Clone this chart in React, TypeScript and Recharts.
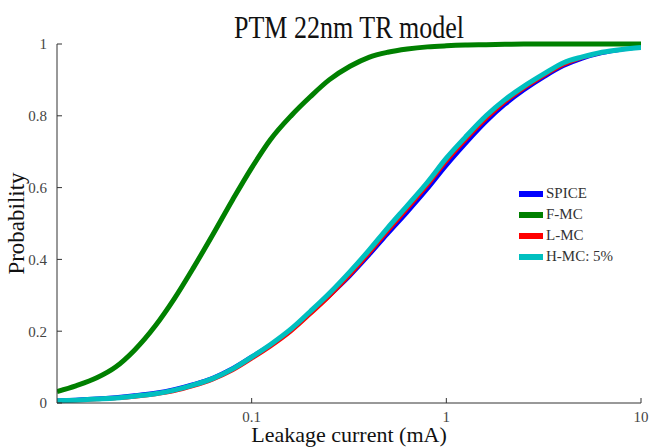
import { LineChart, Line, XAxis, YAxis, Legend } from 'recharts';

// leakage current (mA), sampled on a log grid
const current = [
    0.01, 0.0125, 0.016, 0.02, 0.025, 0.032, 0.04, 0.05, 0.063, 0.08,
    0.1, 0.125, 0.16, 0.2, 0.25, 0.32, 0.4, 0.5, 0.63, 0.8,
    1, 1.25, 1.6, 2, 2.5, 3.2, 4, 5, 6.3, 8, 10,
];

// cumulative probability per method
const spice = [
    0.008, 0.01, 0.013, 0.017, 0.022, 0.029, 0.039, 0.053, 0.071, 0.098,
    0.13, 0.163, 0.205, 0.25, 0.297, 0.353, 0.41, 0.47, 0.53, 0.595,
    0.66, 0.72, 0.782, 0.83, 0.87, 0.908, 0.938, 0.959, 0.974, 0.984, 0.99,
];
const fmc = [
    0.032, 0.048, 0.07, 0.1, 0.147, 0.215, 0.29, 0.375, 0.468, 0.567,
    0.655, 0.734, 0.801, 0.853, 0.9, 0.938, 0.963, 0.977, 0.986, 0.992,
    0.995, 0.997, 0.998, 0.999, 1, 1, 1, 1, 1, 1, 1,
];
const lmc = [
    0.005, 0.007, 0.009, 0.012, 0.016, 0.023, 0.032, 0.046, 0.064, 0.09,
    0.122, 0.156, 0.199, 0.246, 0.295, 0.355, 0.414, 0.477, 0.539, 0.604,
    0.671, 0.73, 0.79, 0.837, 0.875, 0.912, 0.941, 0.961, 0.975, 0.984, 0.99,
];
const hmc = [
    0.006, 0.008, 0.011, 0.014, 0.019, 0.026, 0.036, 0.05, 0.068, 0.095,
    0.128, 0.163, 0.207, 0.255, 0.305, 0.366, 0.425, 0.488, 0.55, 0.615,
    0.682, 0.74, 0.8, 0.845, 0.882, 0.918, 0.948, 0.964, 0.977, 0.985, 0.99,
];

const xTicks = [0.1, 1, 10];
const yTicks = [0, 0.2, 0.4, 0.6, 0.8, 1];

const SERIES = [
    { key: 'spice', name: 'SPICE', color: '#0000ff', width: 3.5 },
    { key: 'fmc', name: 'F-MC', color: '#008000', width: 5 },
    { key: 'lmc', name: 'L-MC', color: '#ff0000', width: 3 },
    { key: 'hmc', name: 'H-MC: 5%', color: '#00bfbf', width: 5 },
];

const FONT = '"Liberation Serif", "Times New Roman", serif';

const data = current.map((x, i) => ({
    x,
    spice: spice[i],
    fmc: fmc[i],
    lmc: lmc[i],
    hmc: hmc[i],
}));

const order = (name: string) => SERIES.findIndex((s) => s.name === name);

const renderLegend = (props: any) => {
    const items = [...(props.payload || [])].sort((a: any, b: any) => order(a.value) - order(b.value));
    return (
        <div style={{ fontFamily: FONT, fontSize: 15, color: '#333' }}>
            {items.map((item: any) => (
                <div key={item.value} style={{ display: 'flex', alignItems: 'center', height: 21 }}>
                    <div style={{ width: 24, height: 6, background: item.color, marginRight: 3 }} />
                    <span>{item.value}</span>
                </div>
            ))}
        </div>
    );
};

export default function App() {
    return (
        <div style={{ position: 'absolute', left: 0, top: 0, width: 649, height: 448, background: '#fff' }}>
            <div
                style={{
                    position: 'absolute',
                    left: 0,
                    top: 13,
                    width: 698,
                    textAlign: 'center',
                    fontFamily: FONT,
                    fontSize: 26,
                    lineHeight: '26px',
                    color: '#111',
                    transform: 'scaleY(1.2)',
                    transformOrigin: 'top',
                }}
            >
                PTM 22nm TR model
            </div>
            <LineChart width={649} height={448} data={data} margin={{ top: 44, right: 8, left: 0, bottom: 0 }}>
                <XAxis
                    dataKey="x"
                    type="number"
                    scale="log"
                    domain={[0.01, 10]}
                    ticks={xTicks}
                    allowDataOverflow
                    height={45}
                    tickSize={-5}
                    tickMargin={13}
                    stroke="#333"
                    tick={{ fill: '#444', fontSize: 15, fontFamily: FONT }}
                    label={{
                        value: 'Leakage current (mA)',
                        position: 'insideBottom',
                        offset: 6,
                        style: { fill: '#111', fontSize: 22, fontFamily: FONT },
                    }}
                />
                <YAxis
                    type="number"
                    domain={[0, 1]}
                    ticks={yTicks}
                    width={57}
                    tickSize={-5}
                    tickMargin={15}
                    stroke="#333"
                    tick={{ fill: '#444', fontSize: 15, fontFamily: FONT }}
                    label={{
                        value: 'Probability',
                        angle: -90,
                        position: 'insideLeft',
                        offset: 16,
                        style: { fill: '#111', fontSize: 23, fontFamily: FONT, textAnchor: 'middle' },
                    }}
                />
                <Legend
                    layout="vertical"
                    align="center"
                    verticalAlign="middle"
                    content={renderLegend}
                    wrapperStyle={{ position: 'absolute', left: 519, top: 183, width: 120 }}
                />
                {SERIES.map((s) => (
                    <Line
                        key={s.key}
                        dataKey={s.key}
                        name={s.name}
                        type="monotone"
                        stroke={s.color}
                        strokeWidth={s.width}
                        dot={false}
                        isAnimationActive={false}
                    />
                ))}
            </LineChart>
        </div>
    );
}
